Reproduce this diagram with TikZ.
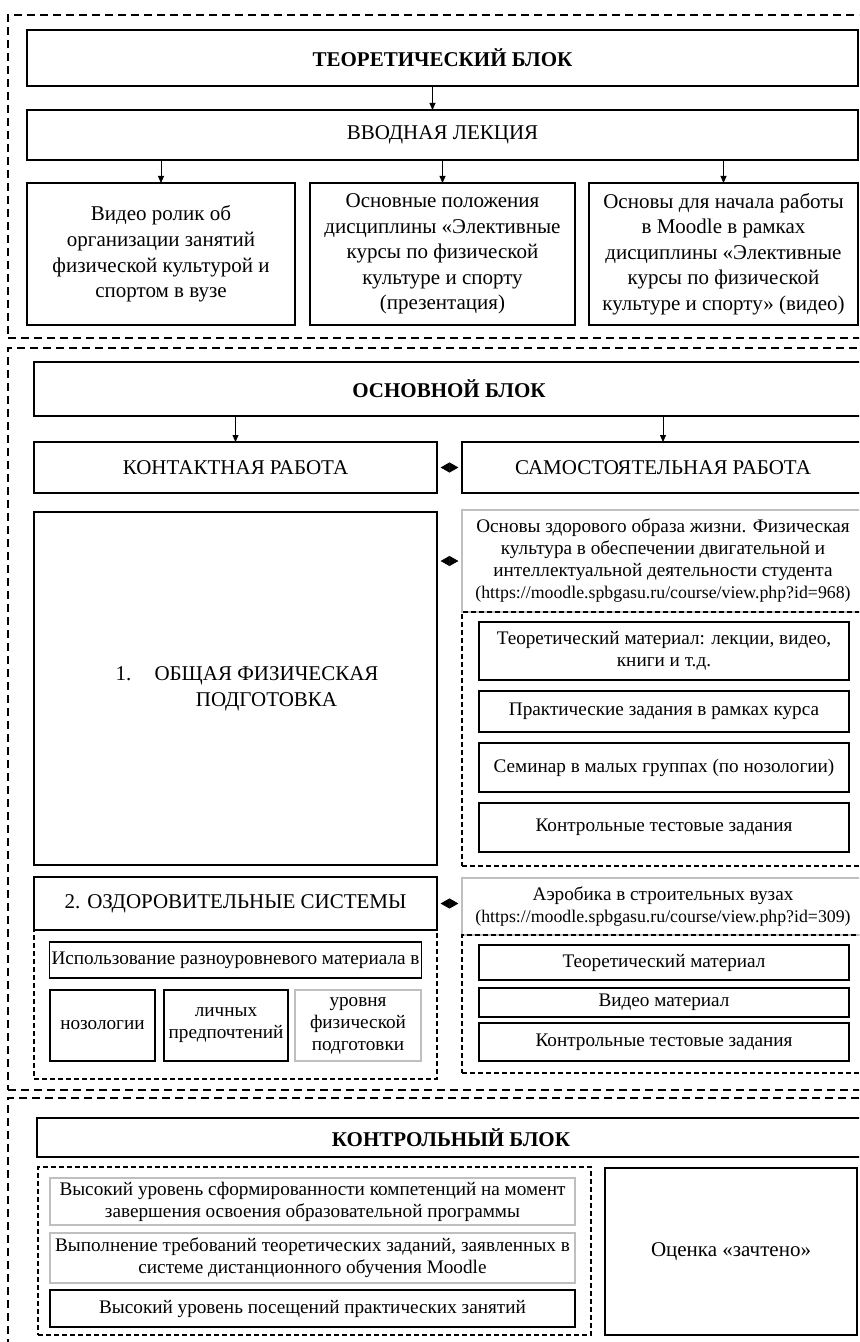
\documentclass[tikz,border=0pt]{standalone}
\usepackage{fontspec}
\setmainfont{Liberation Serif}
\usetikzlibrary{arrows.meta,positioning}

\begin{document}
\begin{tikzpicture}[
        x=0.5pt, y=-0.5pt,
        wh/.style 2 args={minimum width=#1*0.5pt, minimum height=#2*0.5pt},
        box/.style={rectangle, draw, fill=white, line width=0.7pt, inner sep=1pt, outer sep=0pt, align=center, font=\fontsize{9.6}{11}\selectfont},
        lightbox/.style={box, draw=gray!50},
        bigbox/.style={box, font=\fontsize{10.5}{12.8}\selectfont},
        title/.style={box, font=\fontsize{10.5}{12.8}\selectfont\bfseries},
        outer/.style={rectangle, draw, line width=1pt, dash pattern=on 4pt off 2.5pt, inner sep=0pt, outer sep=0pt},
        grp/.style={rectangle, draw, line width=0.6pt, dash pattern=on 2.5pt off 1.5pt, inner sep=0pt, outer sep=0pt},
        arrow/.style={-{Triangle[length=3.5pt,width=3pt]}, line width=0.4pt},
        twoway/.style={{Triangle[length=4.5pt,width=5pt]}-{Triangle[length=4.5pt,width=5pt]}, line width=0.4pt, shorten >=1.8pt, shorten <=1.8pt}
    ]
        \clip (0,0) rectangle (859,1342);
        \fill[white] (0,0) rectangle (859,1342);

        % Outer blocks
        \node[outer, wh={892}{323}] (outT) at (454,176.5) {};
        \node[outer, wh={892}{742}] (outO) at (454,719) {};
        \node[outer, wh={892}{302}] (outK) at (454,1249) {};

        % Theoretical block
        \node[title, wh={831}{56}] (teor) at (442.5,58) {ТЕОРЕТИЧЕСКИЙ БЛОК};
        \node[bigbox, wh={831}{50}] (vvod) at (442.5,135) {ВВОДНАЯ ЛЕКЦИЯ};
        \node[bigbox, wh={268}{142}] (v1) at (161,254) {Видео ролик об\\организации занятий\\физической культурой и\\спортом в вузе};
        \node[bigbox, wh={265}{142}] (v2) at (442.5,254) {Основные положения\\дисциплины «Элективные\\курсы по физической\\культуре и спорту\\(презентация)};
        \node[bigbox, wh={269}{142}] (v3) at (723.5,254) {Основы для начала работы\\в Moodle в рамках\\дисциплины «Элективные\\курсы по физической\\культуре и спорту» (видео)};

        % Main block
        \node[title, wh={830}{54}] (osn) at (449,389) {ОСНОВНОЙ БЛОК};
        \node[bigbox, wh={403}{51}] (kont) at (235.5,467.5) {КОНТАКТНАЯ РАБОТА};
        \node[bigbox, wh={402}{51}] (samo) at (663,467.5) {САМОСТОЯТЕЛЬНАЯ РАБОТА};
        \node[bigbox, wh={403}{353}] (ofp) at (235.5,688.5) {\hspace*{31pt}\llap{1.\hspace{1.1em}}ОБЩАЯ ФИЗИЧЕСКАЯ\\\hspace*{31pt}ПОДГОТОВКА};
        \node[lightbox, wh={402}{102}] (zoj) at (663,561) {Основы здорового образа жизни. Физическая\\культура в обеспечении двигательной и\\интеллектуальной деятельности студента\\{\fontsize{8.9}{11}\selectfont(https://moodle.spbgasu.ru/course/view.php?id=968)}};
        \node[box, wh={370}{58}] (t1) at (664,651) {Теоретический материал: лекции, видео,\\книги и т.д.};
        \node[box, wh={370}{41}] (t2) at (664,711.5) {Практические задания в рамках курса};
        \node[box, wh={370}{49}] (t3) at (664,767.5) {Семинар в малых группах (по нозологии)};
        \node[box, wh={370}{49}] (t4) at (664,827.5) {Контрольные тестовые задания};
        \node[grp, wh={404}{254}] (grpZ) at (664,739) {};

        \node[bigbox, wh={403}{53}] (ozd) at (235.5,903.5) {2. ОЗДОРОВИТЕЛЬНЫЕ СИСТЕМЫ};
        \node[box, wh={371}{36}] (isp) at (235.5,960) {Использование разноуровневого материала в};
        \node[box, wh={105}{71}] (n1) at (102.5,1025.5) {нозологии};
        \node[box, wh={124}{71}] (n2) at (226,1025.5) {личных\\предпочтений};
        \node[lightbox, wh={126}{71}] (n3) at (358,1025.5) {уровня\\физической\\подготовки};
        \node[grp, wh={403}{149}] (grpO) at (235.5,1004.5) {};

        \node[lightbox, wh={402}{57}] (aer) at (663,906.5) {Аэробика в строительных вузах\\{\fontsize{8.9}{11}\selectfont(https://moodle.spbgasu.ru/course/view.php?id=309)}};
        \node[box, wh={370}{35}] (a1) at (664,962.5) {Теоретический материал};
        \node[box, wh={370}{29}] (a2) at (664,1002.5) {Видео материал};
        \node[box, wh={370}{38}] (a3) at (664,1042) {Контрольные тестовые задания};
        \node[grp, wh={404}{138}] (grpA) at (664,1004) {};

        % Control block
        \node[title, wh={828}{39}] (kontr) at (451,1137.5) {КОНТРОЛЬНЫЙ БЛОК};
        \node[lightbox, wh={525}{47}] (k1) at (312.5,1201.5) {Высокий уровень сформированности компетенций на момент\\завершения освоения образовательной программы};
        \node[lightbox, wh={525}{50}] (k2) at (312.5,1258) {Выполнение требований теоретических заданий, заявленных в\\системе дистанционного обучения Moodle};
        \node[box, wh={525}{37}] (k3) at (312.5,1308.5) {Высокий уровень посещений практических занятий};
        \node[grp, wh={553}{168}] (grpK) at (314.5,1251) {};
        \node[bigbox, wh={252}{167}] (zach) at (731,1251.5) {Оценка «зачтено»};

        % Arrows
        \draw[arrow] ([xshift=-5pt]teor.south) -- ([xshift=-5pt]vvod.north);
        \foreach \b in {v1,v2,v3} {
            \draw[arrow] (vvod.south -| \b.north) -- (\b.north);
        }
        \foreach \b in {kont,samo} {
            \draw[arrow] (osn.south -| \b.north) -- (\b.north);
        }
        \draw[twoway] (kont.east) -- (samo.west);
        \draw[twoway] (zoj.west -| ofp.east) -- (zoj.west);
        \draw[twoway] (ozd.east) -- (ozd.east -| aer.west);

    \end{tikzpicture}
\end{document}
